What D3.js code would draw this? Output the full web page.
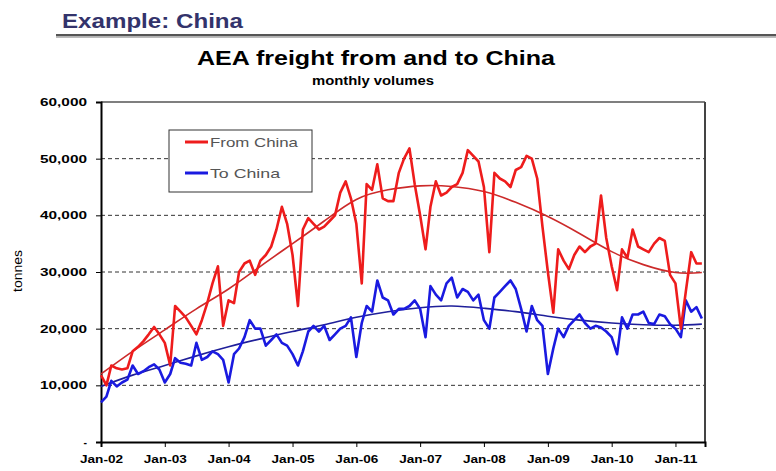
<!DOCTYPE html>
<html><head><meta charset="utf-8">
<script src="https://cdn.jsdelivr.net/npm/d3@7"></script>
<style>body{margin:0;background:#fff}svg{display:block}text{font-family:"Liberation Sans",Arial,sans-serif}</style>
</head><body>
<svg id="c" width="776" height="471"></svg>
<script>
const startMonth = new Date(2002, 0, 1);
const months = d3.timeMonth.range(startMonth, new Date(2011, 6, 1));
const fromChina = [11800,10000,13500,13000,12800,13000,16000,16800,17800,19000,20300,19000,
  17500,13500,24000,23000,22000,20500,19000,21500,24500,28000,31000,20500,
  25000,24500,30000,31500,32000,29500,32000,33000,34500,37500,41500,38500,
  33000,24000,37500,39500,38500,37500,38000,39000,40000,44000,46000,43000,
  38500,28000,45500,44500,49000,43000,42500,42500,47500,50000,51800,45500,
  40000,34000,41500,46000,43500,44000,45000,45500,47500,51500,50500,49500,
  45000,33500,47500,46500,46000,45000,48000,48500,50500,50000,46500,38000,
  30000,22800,34000,32000,30500,33000,34500,33500,34500,35000,43500,36000,
  31000,26800,34000,32500,37500,34500,34000,33500,35000,36000,35500,29500,
  28000,20000,26500,33500,31500,31500];
const toChina = [7000,8000,10800,9800,10500,11000,13500,12000,12500,13200,13700,12800,
  10500,12000,14800,14000,13800,13500,17500,14500,15000,16000,15500,14500,
  10500,15500,16500,18500,21500,20000,20000,17000,18000,19000,17500,17000,
  15500,13500,16000,19500,20500,19500,20500,18000,19000,20000,20500,22000,
  15000,21000,24000,23000,28500,25500,25000,22500,23500,23500,24000,25000,
  23500,18500,27500,26000,25000,28000,29000,25500,27000,26500,25000,26000,
  21500,20000,25500,26500,27500,28500,27000,23500,19500,24000,21500,20500,
  12000,16500,20000,18500,20500,21500,22500,21000,20000,20500,20200,19500,
  18500,15500,22000,20000,22500,22500,23000,21000,20800,22500,22200,20800,
  20000,18500,25000,23000,23800,21800];
const trendIdx = [0,6,12,18,24,30,36,42,48,54,60,66,72,78,84,90,96,102,108,113];
const trendFrom = [12000,16000,19800,23500,27000,31000,35000,39000,42800,44500,45200,45100,44200,42300,39800,36800,33600,31300,29900,29900];
const trendTo = [9800,11800,13500,15200,16800,18200,19500,20700,22000,23000,23700,24000,23600,23000,22200,21500,21000,20700,20600,20800];
const yTicks = [0,10000,20000,30000,40000,50000,60000];
const xTickLabels = ["Jan-02","Jan-03","Jan-04","Jan-05","Jan-06","Jan-07","Jan-08","Jan-09","Jan-10","Jan-11"];
const seriesNames = ["From China","To China"];

const svg = d3.select("#c");
const L = 101, R = 705, T = 102, B = 442;
const x = d3.scaleTime().domain([startMonth, new Date(2011, 5, 19)]).range([L, R]);
const y = d3.scaleLinear().domain([0, 60000]).range([B, T]);

// header
svg.append("text").attr("x", 62).attr("y", 28).attr("font-size", 20).attr("font-weight", "bold")
  .attr("fill", "#33336b").attr("textLength", 181).attr("lengthAdjust", "spacingAndGlyphs").text("Example: China");
svg.append("rect").attr("x", 56).attr("y", 34).attr("width", 720).attr("height", 2.5).attr("fill", "#555");
svg.append("rect").attr("x", 56).attr("y", 36.5).attr("width", 720).attr("height", 1.5).attr("fill", "#bbb");

svg.append("text").attr("x", 376).attr("y", 65).attr("text-anchor", "middle").attr("font-size", 21)
  .attr("font-weight", "bold").attr("fill", "#000").attr("textLength", 358).attr("lengthAdjust", "spacingAndGlyphs")
  .text("AEA freight from and to China");
svg.append("text").attr("x", 373).attr("y", 85).attr("text-anchor", "middle").attr("font-size", 12)
  .attr("font-weight", "bold").attr("fill", "#000").attr("textLength", 122).attr("lengthAdjust", "spacingAndGlyphs")
  .text("monthly volumes");

// gridlines
svg.append("g").selectAll("line").data(yTicks.filter(d => d > 0 && d < 60000)).join("line")
  .attr("x1", L).attr("x2", R).attr("y1", d => y(d)).attr("y2", d => y(d))
  .attr("stroke", "#333").attr("stroke-width", 1).attr("stroke-dasharray", "4,3");

// frame
svg.append("line").attr("x1", L).attr("x2", R).attr("y1", T).attr("y2", T).attr("stroke", "#555").attr("stroke-width", 1.5);
svg.append("line").attr("x1", R).attr("x2", R).attr("y1", T).attr("y2", B).attr("stroke", "#444").attr("stroke-width", 2);

// y axis
const yAxis = svg.append("g").attr("transform", `translate(${L},0)`)
  .call(d3.axisLeft(y).tickValues(yTicks).tickSize(5).tickPadding(9).tickFormat(d => d === 0 ? "-" : d3.format(",")(d)));
yAxis.select(".domain").attr("stroke", "#000").attr("stroke-width", 2);
yAxis.selectAll(".tick line").attr("stroke", "#000");
yAxis.selectAll("text").attr("font-size", 10.5).attr("font-weight", "bold").attr("fill", "#000")
  .attr("font-family", "Liberation Sans, Arial, sans-serif")
  .attr("textLength", d => d === 0 ? null : 47).attr("lengthAdjust", "spacingAndGlyphs");

// x axis
const xTickDates = xTickLabels.map((s, i) => new Date(2002 + i, 0, 1));
const xAxis = svg.append("g").attr("transform", `translate(0,${B})`)
  .call(d3.axisBottom(x).tickValues(xTickDates).tickSize(5).tickPadding(9).tickFormat((d, i) => xTickLabels[i]));
xAxis.select(".domain").attr("stroke", "#000").attr("stroke-width", 2);
xAxis.selectAll(".tick line").attr("stroke", "#000");
xAxis.selectAll("text").attr("font-size", 10.5).attr("font-weight", "bold").attr("fill", "#000")
  .attr("font-family", "Liberation Sans, Arial, sans-serif")
  .attr("textLength", 43).attr("lengthAdjust", "spacingAndGlyphs");

svg.append("text").attr("transform", "translate(22,271) rotate(-90)").attr("text-anchor", "middle")
  .attr("font-size", 12).attr("fill", "#000").attr("textLength", 42).attr("lengthAdjust", "spacingAndGlyphs").text("tonnes");

// series
const line = d3.line().x((d, i) => x(months[i])).y(d => y(d));
const tline = d3.line().x((d, i) => x(months[trendIdx[i]])).y(d => y(d)).curve(d3.curveNatural);

svg.append("path").datum(trendTo).attr("d", tline).attr("fill", "none").attr("stroke", "#1f1f9a").attr("stroke-width", 1.6);
svg.append("path").datum(trendFrom).attr("d", tline).attr("fill", "none").attr("stroke", "#cc2a2a").attr("stroke-width", 1.6);
svg.append("path").datum(toChina).attr("d", line).attr("fill", "none").attr("stroke", "#1a1ae0").attr("stroke-width", 2.6).attr("stroke-linejoin", "round");
svg.append("path").datum(fromChina).attr("d", line).attr("fill", "none").attr("stroke", "#ee1c1c").attr("stroke-width", 2.6).attr("stroke-linejoin", "round");

// legend
const lg = svg.append("g");
lg.append("rect").attr("x", 169).attr("y", 130).attr("width", 143).attr("height", 62).attr("fill", "#fff").attr("stroke", "#333").attr("stroke-width", 1);
const legColors = ["#ee1c1c", "#1a1ae0"];
const legLen = [88, 70];
seriesNames.forEach((n, i) => {
  const yy = 142 + i * 31;
  lg.append("line").attr("x1", 185).attr("x2", 208).attr("y1", yy).attr("y2", yy).attr("stroke", legColors[i]).attr("stroke-width", 3);
  lg.append("text").attr("x", 210).attr("y", yy + 4.5).attr("font-size", 13).attr("fill", "#555")
    .attr("textLength", legLen[i]).attr("lengthAdjust", "spacingAndGlyphs").text(n);
});
</script>
</body></html>
